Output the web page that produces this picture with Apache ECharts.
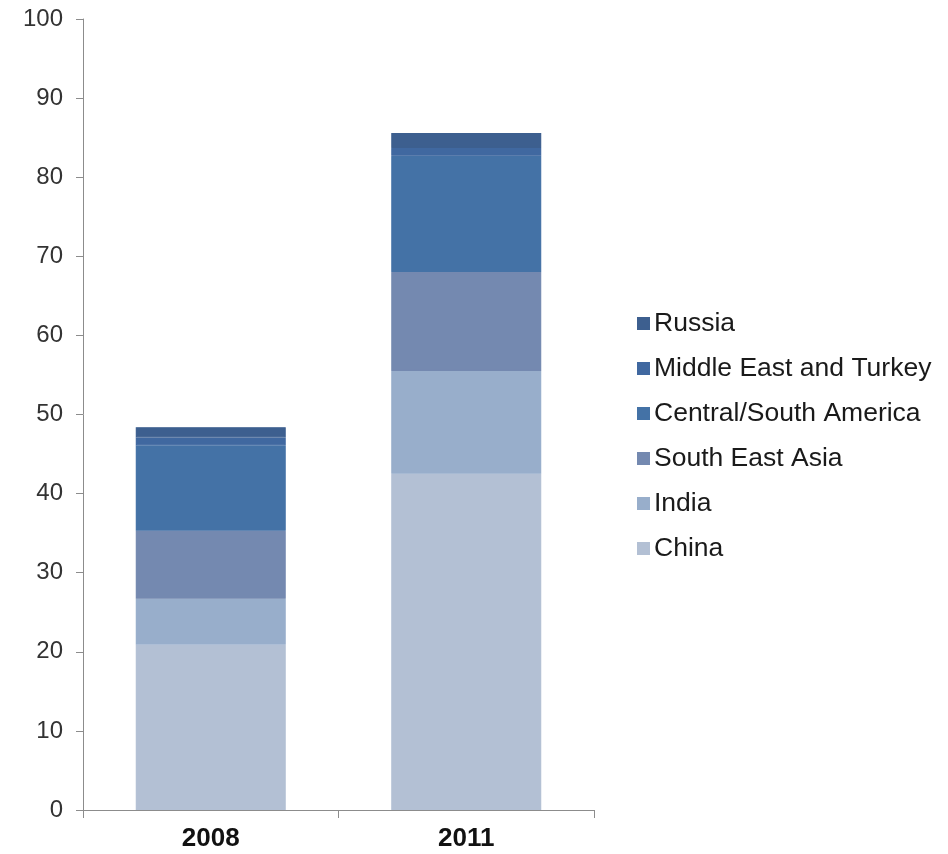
<!DOCTYPE html>
<html>
<head>
<meta charset="utf-8">
<script src="https://cdn.jsdelivr.net/npm/echarts@6/dist/echarts.min.js"></script>
<style>
  html, body { margin: 0; padding: 0; background: #ffffff; }
  #chart { width: 948px; height: 854px; }
</style>
</head>
<body>
<div id="chart"></div>
<script>
// Years on the category axis
const years = ['2008', '2011'];

// Stacked regional values, bottom to top
const china = [20.9, 42.5];
const india = [5.8, 13.0];
const southEastAsia = [8.6, 12.5];
const centralSouthAmerica = [10.8, 14.7];
const middleEastTurkey = [1.0, 1.0];
const russia = [1.3, 1.9];

// Value axis ticks
const yTicks = [0, 10, 20, 30, 40, 50, 60, 70, 80, 90, 100];

const regions = [
  { name: 'China', data: china, color: '#b3c0d4' },
  { name: 'India', data: india, color: '#98aecb' },
  { name: 'South East Asia', data: southEastAsia, color: '#7489b0' },
  { name: 'Central/South America', data: centralSouthAmerica, color: '#4472a6' },
  { name: 'Middle East and Turkey', data: middleEastTurkey, color: '#4068a0' },
  { name: 'Russia', data: russia, color: '#3d5f8f' }
];

const chart = echarts.init(document.getElementById('chart'), null, { renderer: 'canvas' });

chart.setOption({
  animation: false,
  backgroundColor: '#ffffff',
  textStyle: { fontFamily: 'Liberation Sans, Arial, sans-serif' },
  grid: { left: 83, top: 19, width: 511, height: 791, containLabel: false },
  legend: {
    orient: 'vertical',
    left: 632,
    top: 305,
    itemWidth: 11,
    itemHeight: 11,
    itemGap: 18,
    icon: 'rect',
    data: regions.map(r => r.name).reverse(),
    textStyle: { fontSize: 26.5, color: '#1a1a1a', fontFamily: 'Liberation Sans, Arial, sans-serif' }
  },
  xAxis: {
    type: 'category',
    data: years,
    axisLine: { lineStyle: { color: '#8c8c8c', width: 1 } },
    axisTick: { show: true, alignWithLabel: false, length: 8, lineStyle: { color: '#8c8c8c' } },
    axisLabel: { fontSize: 26, fontWeight: 'bold', color: '#111111', margin: 16 }
  },
  yAxis: {
    type: 'value',
    min: yTicks[0],
    max: yTicks[yTicks.length - 1],
    interval: 10,
    splitLine: { show: false },
    axisLine: { show: true, lineStyle: { color: '#8c8c8c', width: 1 } },
    axisTick: { show: true, inside: false, length: 7, lineStyle: { color: '#8c8c8c' } },
    axisLabel: { fontSize: 24, color: '#333333', margin: 20 }
  },
  series: regions.map(r => ({
    name: r.name,
    type: 'bar',
    stack: 'total',
    barWidth: 150,
    data: r.data,
    // a border in the fill colour closes antialiasing seams between segments
    itemStyle: { color: r.color, borderColor: r.color, borderWidth: 1.2 }
  }))
});
</script>
</body>
</html>
